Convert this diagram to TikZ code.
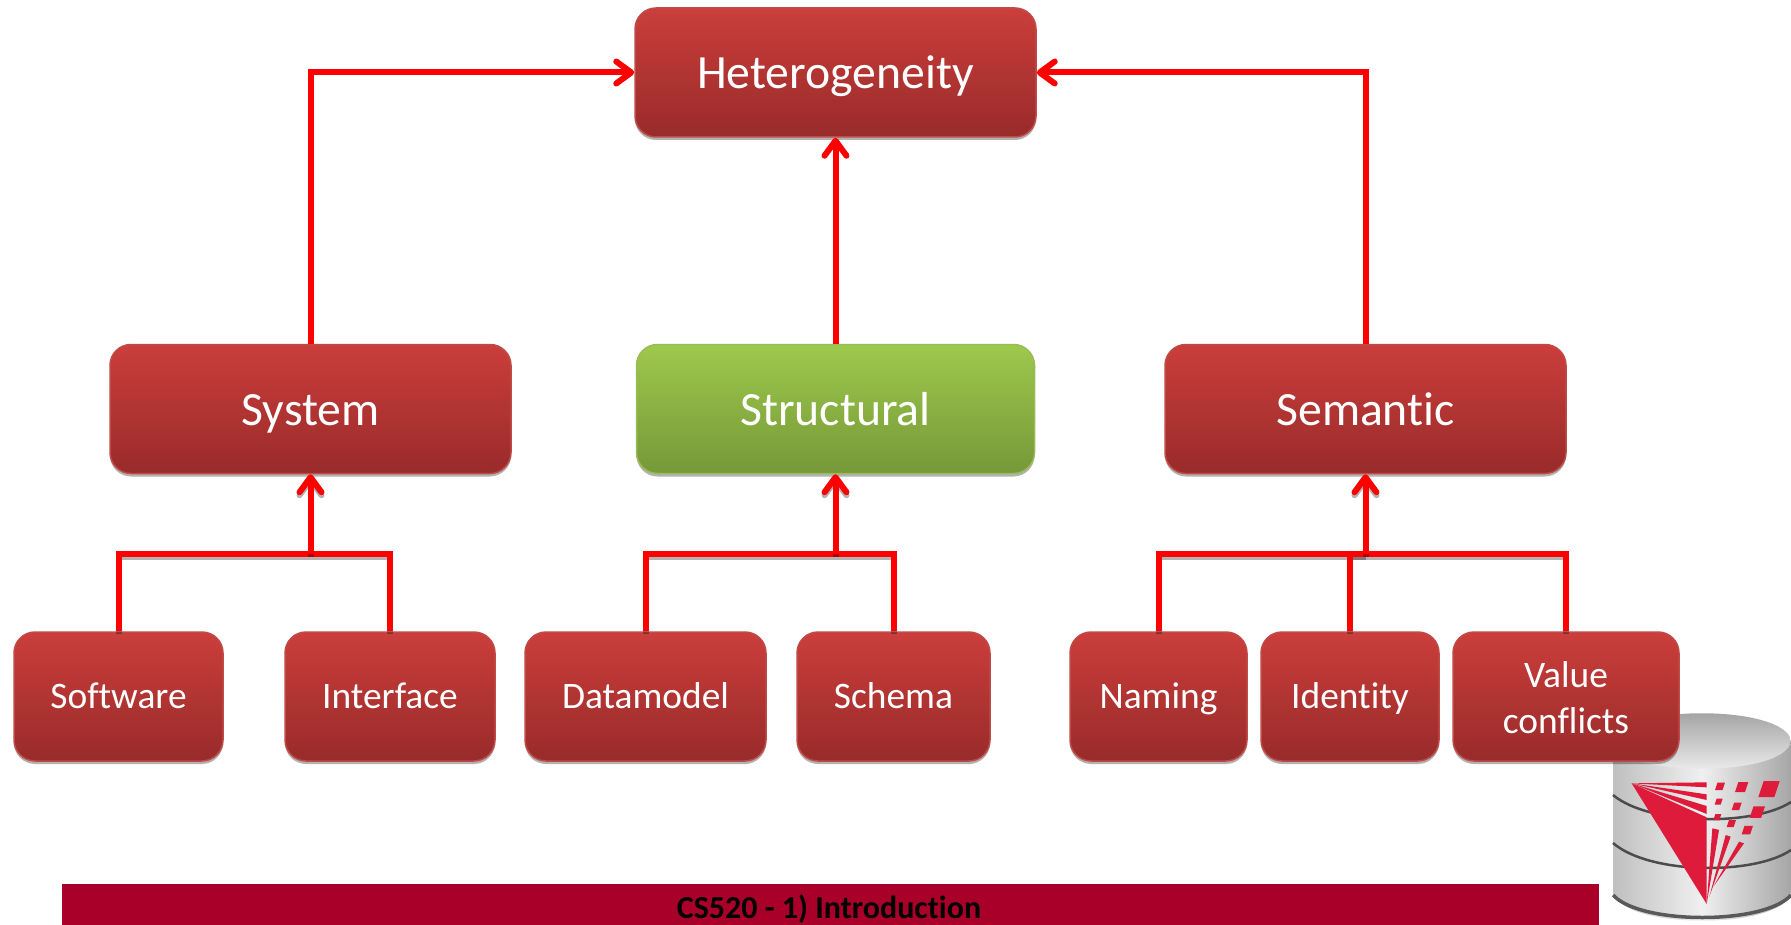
\documentclass[tikz,border=0pt]{standalone}
\usepackage{fontspec}
\setmainfont[Ligatures=NoCommon]{Carlito}
\usetikzlibrary{arrows.meta,shadows}

\definecolor{boxtop}{HTML}{CB3E3B}
\definecolor{boxbot}{HTML}{982B2A}
\definecolor{boxline}{HTML}{BE4B48}
\definecolor{greentop}{HTML}{9DC94B}
\definecolor{greenbot}{HTML}{769839}
\definecolor{greenline}{HTML}{9BBB59}
\definecolor{barred}{HTML}{A80028}
\definecolor{logored}{HTML}{DE1B3B}

\tikzset{
    redbox/.style={draw=boxline, line width=1.5pt, rounded corners=21pt, top color=boxtop, bottom color=boxbot,
        text=white, align=center, inner sep=0pt, drop shadow={shadow xshift=0pt, shadow yshift=-3pt, fill=black, opacity=0.3}},
    greenbox/.style={redbox, draw=greenline, top color=greentop, bottom color=greenbot},
    bigbox/.style={minimum height=129pt, text height=32pt, text depth=0pt, font=\fontsize{47.7}{54}\selectfont},
    smallbox/.style={minimum height=129pt, text height=24pt, text depth=0pt, font=\fontsize{37.4}{46}\selectfont},
    link/.style={draw=red, line width=6pt},
    linkarrow/.style={link, -{Straight Barb[length=15pt,width=22pt,round,line width=6pt]}},
    lowshadow/.style={preaction={draw=black, opacity=0.3, line width=6pt, transform canvas={yshift=-3pt}}},
    barnode/.style={fill=barred, minimum width=1537pt, minimum height=41pt, inner sep=0pt},
}

\begin{document}
\begin{tikzpicture}[x=1pt,y=-1pt]
    \useasboundingbox (0,0) rectangle (1791,925);

    % Draw database cylinder
    \path[left color=black!25, right color=black!35, middle color=black!6]
        (1613,741) -- (1613,893) .. controls (1625,930) and (1780,930) .. (1791,893) -- (1791,741) -- cycle;
    \path[top color=black!40, bottom color=black!4]
        (1613,741) .. controls (1618,704) and (1786,704) .. (1791,741) .. controls (1786,778) and (1618,778) .. (1613,741) -- cycle;
    \draw[black!70, line width=2.5pt] (1613,795) .. controls (1650,826) and (1755,826) .. (1791,802);
    \draw[black!70, line width=2.5pt] (1613,843) .. controls (1650,875) and (1755,875) .. (1791,850);
    \draw[black!65, line width=3.5pt] (1613,895) .. controls (1640,925) and (1765,925) .. (1791,895);

    % Draw logo
    \begin{scope}[shift={(1500,680)},scale=1/3]
        \fill[logored] (395,310) -- (620,412) -- (620,672) -- cycle;
        \fill[logored] (395,310) -- (620,307) -- (620,322) -- cycle;
        \fill[logored] (395,310) -- (620,343) -- (620,360) -- cycle;
        \fill[logored] (395,310) -- (620,378) -- (620,402) -- cycle;
        \fill[logored] (620,672) -- (637,445) -- (657,450) -- cycle;
        \fill[logored] (628,650) -- (677,465) -- (692,470) -- cycle;
        \fill[logored] (640,620) -- (717,485) -- (732,490) -- cycle;
        \foreach \cx/\cy/\rad in {660/319/15, 725/321/20, 807/327/32, 656/365/12, 710/379/15, 772/396/23, 652/411/12, 694/431/14, 742/450/17}
            \fill[logored] (\cx-\rad*0.5,\cy-\rad*0.75) -- (\cx+\rad,\cy-\rad*0.75) -- (\cx+\rad*0.5,\cy+\rad*0.75) -- (\cx-\rad,\cy+\rad*0.75) -- cycle;
    \end{scope}

    % Draw boxes
    \node[redbox, bigbox, minimum width=401pt] (hetero) at (835.5,72.5) {Heterogeneity};

    \node[redbox, bigbox, minimum width=401pt] (system) at (310.5,409) {System};
    \node[greenbox, bigbox, minimum width=398pt] (structural) at (835.5,409) {Structural};
    \node[redbox, bigbox, minimum width=401pt] (semantic) at (1365.5,409) {Semantic};

    \node[redbox, smallbox, minimum width=209pt] (software) at (118.5,696.5) {Software};
    \node[redbox, smallbox, minimum width=210pt] (interface) at (390,696.5) {Interface};
    \node[redbox, smallbox, minimum width=241pt] (datamodel) at (645.5,696.5) {Datamodel};
    \node[redbox, smallbox, minimum width=193pt] (schema) at (893.5,696.5) {Schema};
    \node[redbox, smallbox, minimum width=177pt] (naming) at (1158.5,696.5) {Naming};
    \node[redbox, smallbox, minimum width=178pt] (identity) at (1350,696.5) {Identity};
    \node[redbox, smallbox, minimum width=226pt, text height=73pt] (value) at (1566,696.5) {Value\\conflicts};

    % Draw joints of the lower connectors
    \coordinate (sysjoin) at (310.5,554);
    \coordinate (structjoin) at (835.5,554);
    \coordinate (semjoin) at (1365.5,554);

    % Draw connectors to the top box
    \draw[linkarrow] (system.north) |- (hetero.west);
    \draw[linkarrow] (structural.north) -- (hetero.south);
    \draw[linkarrow] (semantic.north) |- (hetero.east);

    % Draw connectors of the lower boxes
    \draw[link, lowshadow, line join=miter] (software.north) |- (sysjoin);
    \draw[link, lowshadow, line join=miter] (interface.north) |- (sysjoin);
    \draw[linkarrow, lowshadow] (sysjoin) -- (system.south);

    \draw[link, lowshadow, line join=miter] (datamodel.north) |- (structjoin);
    \draw[link, lowshadow, line join=miter] (schema.north) |- (structjoin);
    \draw[linkarrow, lowshadow] (structjoin) -- (structural.south);

    \draw[link, lowshadow, line join=miter] (naming.north) |- (semjoin);
    \draw[link, lowshadow, line join=miter] (identity.north) |- (semjoin);
    \draw[link, lowshadow, line join=miter] (value.north) |- (semjoin);
    \draw[linkarrow, lowshadow] (semjoin) -- (semantic.south);

    % Draw footer bar
    \node[barnode] (bar) at (830.5,904.5) {};
    \node[font=\fontsize{32}{36}\selectfont\bfseries, text=black, inner sep=0pt, anchor=base] (footer) at (829,918) {CS520 - 1) Introduction};
\end{tikzpicture}
\end{document}
